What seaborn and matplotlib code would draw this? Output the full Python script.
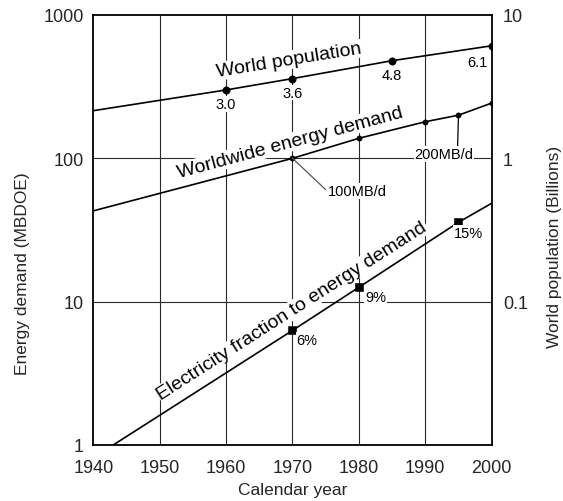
import numpy as np
import pandas as pd
import matplotlib
matplotlib.use("Agg")
import matplotlib.pyplot as plt
from matplotlib.ticker import NullLocator
import seaborn as sns

# ---- data -------------------------------------------------------------
year_ticks = [1940, 1950, 1960, 1970, 1980, 1990, 2000]

# World population (billions, right axis)
pop_years = [1940, 1960, 1970, 1985, 2000]
pop_billions = [2.15, 3.0, 3.6, 4.8, 6.1]
pop_mark_years = [1960, 1970, 1985, 2000]
pop_mark_billions = [3.0, 3.6, 4.8, 6.1]
pop_mark_labels = ["3.0", "3.6", "4.8", "6.1"]

# Worldwide energy demand (MBDOE, left axis)
energy_years = [1940, 1970, 1980, 1990, 1995, 2000]
energy_mbdoe = [43, 100, 138, 180, 200, 243]
energy_mark_years = [1970, 1980, 1990, 1995, 2000]
energy_mark_mbdoe = [100, 138, 180, 200, 243]

# Electricity share of energy demand (MBDOE, left axis)
elec_years = [1943, 1970, 1980, 1995, 2000]
elec_mbdoe = [1.0, 6.3, 12.6, 35.8, 48.6]
elec_mark_years = [1970, 1980, 1995]
elec_mark_mbdoe = [6.3, 12.6, 35.8]
elec_mark_labels = ["6%", "9%", "15%"]

left_ticks = [1, 10, 100, 1000]
left_tick_labels = ["1", "10", "100", "1000"]
right_ticks = [0.1, 1, 10]
right_tick_labels = ["0.1", "1", "10"]

pop_df = pd.DataFrame({"year": pop_years, "value": pop_billions})
energy_df = pd.DataFrame({"year": energy_years, "value": energy_mbdoe})
elec_df = pd.DataFrame({"year": elec_years, "value": elec_mbdoe})

# ---- style ------------------------------------------------------------
sns.set_style("white")
plt.rcParams["font.family"] = ["Liberation Sans", "DejaVu Sans"]
plt.rcParams["text.color"] = "black"

W, H = 563, 502
fig = plt.figure(figsize=(W / 100, H / 100), dpi=100)
x0, x1, y0, y1 = 93.3, 491.7, 16, 446
ax = fig.add_axes([x0 / W, 1 - y1 / H, (x1 - x0) / W, (y1 - y0) / H])

ax.set_yscale("log")
ax.set_xlim(1940, 2000)
ax.set_ylim(1, 1000)
ax2 = ax.twinx()
ax2.set_yscale("log")
ax2.set_ylim(0.01, 10)

grid_kw = dict(color="#2a2a2a", lw=0.8, zorder=0.5)
for yr in year_ticks[1:-1]:
    ax.axvline(yr, **grid_kw)
for v in [10, 100]:
    ax.axhline(v, **grid_kw)

line_kw = dict(color="black", lw=1.2, legend=False)
sns.lineplot(data=energy_df, x="year", y="value", ax=ax, **line_kw)
sns.lineplot(data=elec_df, x="year", y="value", ax=ax, **line_kw)
sns.lineplot(data=pop_df, x="year", y="value", ax=ax2, **line_kw)

sns.scatterplot(x=pop_mark_years, y=pop_mark_billions, ax=ax2, marker="o",
                s=28, color="black", edgecolor="black", zorder=4)
sns.scatterplot(x=energy_mark_years, y=energy_mark_mbdoe, ax=ax, marker="o",
                s=15, color="black", edgecolor="black", zorder=4)
sns.scatterplot(x=elec_mark_years, y=elec_mark_mbdoe, ax=ax, marker="s",
                s=28, color="black", edgecolor="black", zorder=4)

# ---- axes -------------------------------------------------------------
ax.set_xticks(year_ticks, labels=[str(y) for y in year_ticks])
ax.set_yticks(left_ticks, labels=left_tick_labels)
ax.yaxis.set_minor_locator(NullLocator())
ax2.set_yticks(right_ticks, labels=right_tick_labels)
ax2.yaxis.set_minor_locator(NullLocator())
ax.tick_params(axis="both", length=0, labelsize=13)
ax.tick_params(axis="x", pad=10)
ax.tick_params(axis="y", pad=7)
ax2.tick_params(axis="y", length=0, labelsize=13, pad=8)

for sp in ax.spines.values():
    sp.set_color("black")
    sp.set_linewidth(1.3)
for sp in ax2.spines.values():
    sp.set_visible(False)

ax.set_xlabel("Calendar year", fontsize=12.5)
ax.xaxis.set_label_coords(0.5, -0.086)
ax.set_ylabel("Energy demand (MBDOE)", fontsize=12.5)
ax.yaxis.set_label_coords(-0.16, 0.40)
ax2.set_ylabel("World population (Billions)", fontsize=12.5)
ax2.yaxis.set_label_coords(1.138, 0.463)

fig.canvas.draw()


def line_angle(axis, xs, ys):
    p = axis.transData.transform([(xs[0], ys[0]), (xs[-1], ys[-1])])
    return np.degrees(np.arctan2(p[1, 1] - p[0, 1], p[1, 0] - p[0, 0]))


def log_interp(x, xs, ys):
    return 10 ** np.interp(x, xs, np.log10(ys))


def curve_label(axis, text, xs, ys, at, dist, size):
    ang = line_angle(axis, xs, ys)
    t = np.radians(ang)
    axis.annotate(text, xy=(at, log_interp(at, xs, ys)),
                  xytext=(-dist * np.sin(t), dist * np.cos(t)),
                  textcoords="offset pixels", ha="center", va="center",
                  rotation=ang, rotation_mode="anchor", fontsize=size,
                  bbox=dict(fc="white", ec="none", pad=0.5), zorder=5)


curve_label(ax2, "World population", pop_years, pop_billions, 1970, 19, 14)
curve_label(ax, "Worldwide energy demand", energy_years, energy_mbdoe, 1970.3, 16, 14)
curve_label(ax, "Electricity fraction to energy demand", elec_years, elec_mbdoe,
            1971.3, 17, 14)

small = 10.5
white = dict(fc="white", ec="none", pad=0.6)

pop_offsets = [(0, -14), (0, -14), (0, -14), (-14, -16)]
for yr, v, lab, off in zip(pop_mark_years, pop_mark_billions, pop_mark_labels, pop_offsets):
    ax2.annotate(lab, xy=(yr, v), xytext=off, textcoords="offset pixels",
                 ha="center", va="center", fontsize=small, bbox=white, zorder=5)

elec_offsets = [(4, -9.5), (6, -10), (-5, -11)]
for yr, v, lab, off in zip(elec_mark_years, elec_mark_mbdoe, elec_mark_labels, elec_offsets):
    ax.annotate(lab, xy=(yr, v), xytext=off, textcoords="offset pixels",
                ha="left", va="center", fontsize=small, bbox=white, zorder=5)

ax.annotate("100MB/d", xy=(energy_mark_years[0], energy_mark_mbdoe[0]),
            xytext=(35, -33), textcoords="offset pixels", ha="left", va="center",
            fontsize=small, bbox=white, zorder=5,
            arrowprops=dict(arrowstyle="-", color="#555555", lw=0.9,
                            shrinkA=1, shrinkB=0, relpos=(0.0, 0.5)))
ax.annotate("200MB/d", xy=(energy_mark_years[3], energy_mark_mbdoe[3]),
            xytext=(-14.5, -39), textcoords="offset pixels", ha="center", va="center",
            fontsize=small, bbox=white, zorder=5,
            arrowprops=dict(arrowstyle="-", color="black", lw=0.9,
                            shrinkA=0, shrinkB=0, relpos=(0.73, 1.0)))

fig.savefig("out.png", dpi=100)
